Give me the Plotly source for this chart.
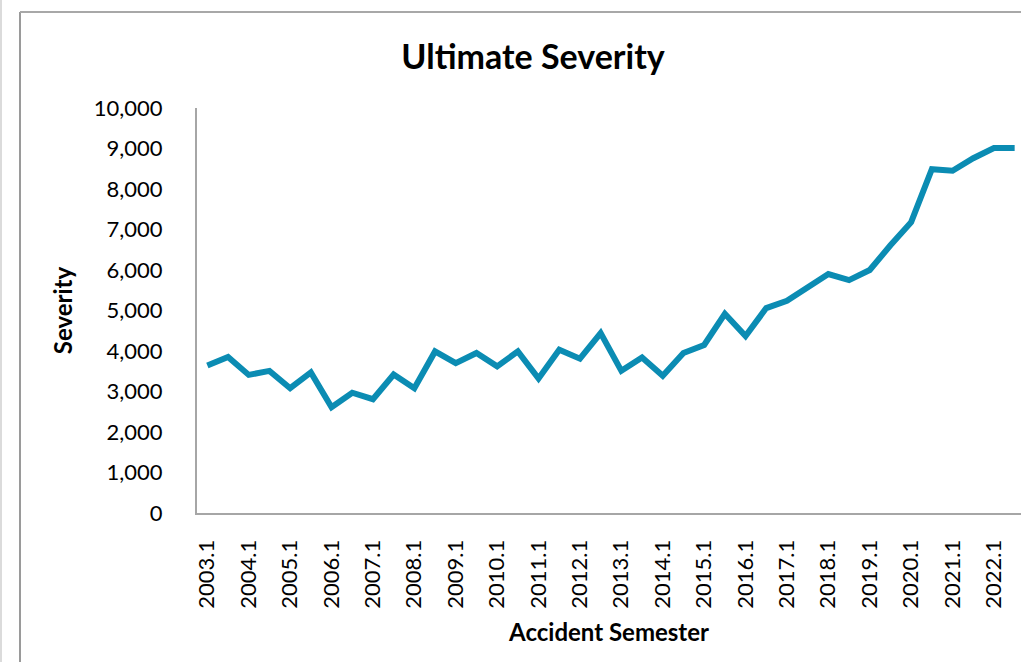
import plotly.graph_objects as go

# Accident semesters 2003.1 .. 2022.2
years = list(range(2003, 2023))
semesters = [f"{y}.{s}" for y in years for s in (1, 2)]

# Ultimate severity per accident semester
severity = [
    3640, 3850, 3410, 3510, 3080, 3470, 2610, 2970, 2810, 3420,
    3080, 3990, 3700, 3950, 3620, 3990, 3320, 4030, 3810, 4440,
    3510, 3840, 3390, 3950, 4150, 4920, 4370, 5060, 5240, 5570,
    5900, 5750, 6000, 6610, 7180, 8490, 8450, 8760, 9010, 9010,
]

tick_labels = semesters[::2]
y_ticks = list(range(0, 10001, 1000))

W, H = 1021, 662
ML, MR, MT, MB = 197, 0, 108, 149
plot_w = W - ML - MR
plot_h = H - MT - MB
cat_w = 20.7
x_max = -0.5 + plot_w / cat_w

FONT = "Lato"
LINE_COLOR = "#0B8CB3"
AXIS_COLOR = "#a6a6a6"


def px_to_paper_x(px):
    return (px - ML) / plot_w


def px_to_paper_y(py):
    return (H - MB - py) / plot_h


fig = go.Figure()
fig.add_trace(go.Scatter(
    x=semesters,
    y=severity,
    mode="lines",
    line=dict(color=LINE_COLOR, width=6),
    hoverinfo="x+y",
))

# chart border (left and top edges) plus the faint outer edge
frame = [
    dict(x0=px_to_paper_x(20), x1=px_to_paper_x(20), y0=px_to_paper_y(12), y1=px_to_paper_y(H + 20),
         line=dict(color="#9a9a9a", width=2)),
    dict(x0=px_to_paper_x(20), x1=px_to_paper_x(W + 20), y0=px_to_paper_y(12), y1=px_to_paper_y(12),
         line=dict(color="#a8a8a8", width=2)),
    dict(x0=px_to_paper_x(1), x1=px_to_paper_x(1), y0=px_to_paper_y(-20), y1=px_to_paper_y(H + 20),
         line=dict(color="#cfcfcf", width=1.5)),
]
for s in frame:
    fig.add_shape(type="line", xref="paper", yref="paper", layer="above", **s)

fig.update_layout(
    width=W,
    height=H,
    margin=dict(l=ML, r=MR, t=MT, b=MB),
    paper_bgcolor="white",
    plot_bgcolor="white",
    showlegend=False,
    font=dict(family=FONT, color="#000000"),
    title=dict(
        text="<b>Ultimate Severity</b>",
        x=533 / W, xanchor="center",
        y=1 - 57 / H, yanchor="middle",
        font=dict(family=FONT, size=34, color="#000000"),
    ),
)

fig.update_xaxes(
    type="category",
    categoryorder="array",
    categoryarray=semesters,
    range=[-0.5, x_max],
    tickmode="array",
    tickvals=tick_labels,
    ticktext=tick_labels,
    tickangle=-90,
    ticks="",
    ticklabelstandoff=16,
    tickfont=dict(family=FONT, size=22, color="#000000"),
    showgrid=False,
    zeroline=False,
    showline=True,
    linecolor=AXIS_COLOR,
    linewidth=2,
    title=dict(text="<b>Accident Semester</b>", font=dict(family=FONT, size=24, color="#000000"), standoff=16),
)

fig.update_yaxes(
    range=[0, 10000],
    tickmode="array",
    tickvals=y_ticks,
    tickformat=",",
    ticks="",
    ticklabelstandoff=28,
    tickfont=dict(family=FONT, size=22, color="#000000"),
    showgrid=False,
    zeroline=False,
    showline=True,
    linecolor=AXIS_COLOR,
    linewidth=2,
    title=dict(text="<b>Severity</b>", font=dict(family=FONT, size=24, color="#000000"), standoff=14),
)

fig.write_html("out.html")
